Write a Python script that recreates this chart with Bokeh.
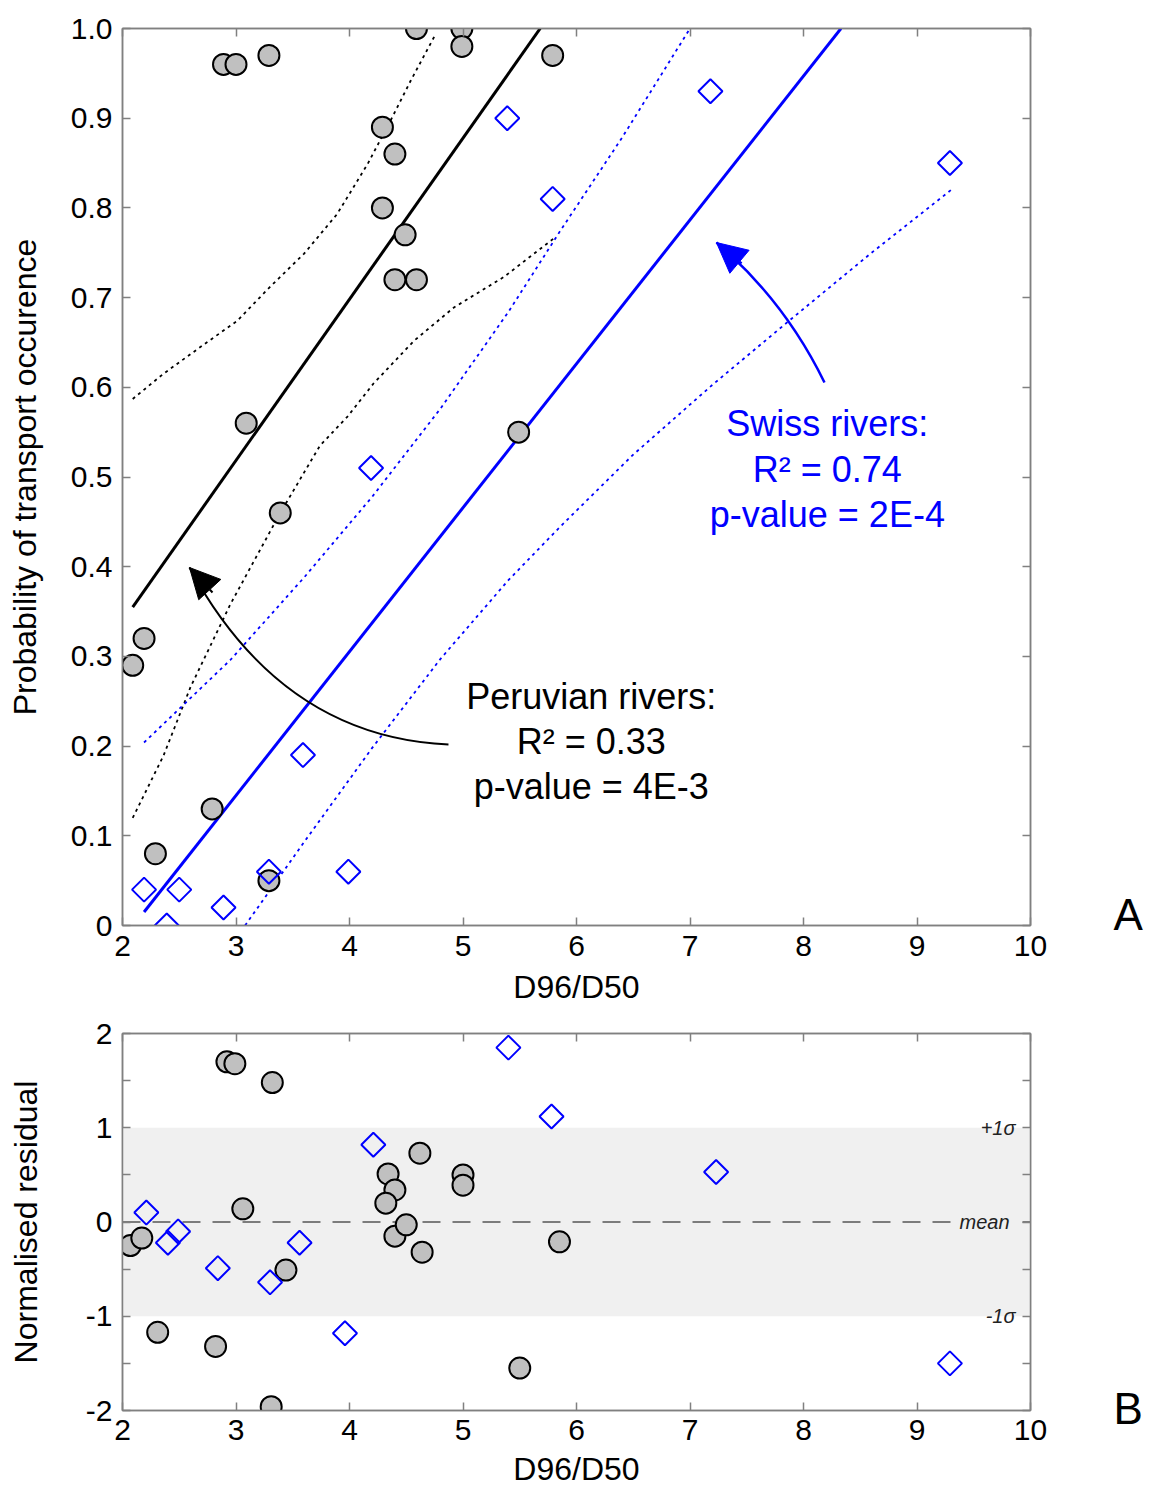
from bokeh.plotting import figure
from bokeh.layouts import column
from bokeh.models import (LinearAxis, FixedTicker, CustomJSTickFormatter, Label,
                          Arrow, NormalHead, BoxAnnotation, Span, Range1d)
from bokeh.embed import file_html
from bokeh.resources import INLINE

# ---------------- data ----------------
# Peruvian rivers (circles)
peru_x = [2.09, 2.19, 2.29, 2.79, 3.29, 2.89, 3.00, 3.29, 3.09, 3.39, 4.29,
          4.40, 4.29, 4.49, 4.40, 4.59, 4.59, 4.99, 4.99, 5.79, 5.49]
peru_y = [0.29, 0.32, 0.08, 0.13, 0.05, 0.96, 0.96, 0.97, 0.56, 0.46, 0.89,
          0.86, 0.80, 0.77, 0.72, 0.72, 1.00, 1.00, 0.98, 0.97, 0.55]
# Swiss rivers (diamonds)
swiss_x = [2.19, 2.39, 2.50, 2.89, 3.29, 3.99, 3.59, 4.19, 5.39, 5.79, 7.18, 9.29]
swiss_y = [0.04, 0.00, 0.04, 0.02, 0.06, 0.06, 0.19, 0.51, 0.90, 0.81, 0.93, 0.85]

# regression lines
peru_fit_x = [2.09, 5.68]
peru_fit_y = [0.355, 1.0]
swiss_fit_x = [2.19, 8.33]
swiss_fit_y = [0.015, 1.0]

# confidence bands
peru_upper_x = [2.09, 2.36, 2.72, 3.01, 3.30, 3.60, 3.89, 4.16, 4.36, 4.54, 4.76]
peru_upper_y = [0.587, 0.615, 0.648, 0.674, 0.712, 0.749, 0.793, 0.849, 0.897, 0.942, 0.994]
peru_lower_x = [2.09, 2.36, 2.60, 2.95, 3.39, 3.74, 3.98, 4.21, 4.57, 4.92, 5.36, 5.80]
peru_lower_y = [0.120, 0.189, 0.266, 0.358, 0.460, 0.535, 0.567, 0.604, 0.652, 0.689, 0.723, 0.766]
swiss_upper_x = [2.19, 2.95, 3.60, 4.20, 4.80, 5.40, 5.86, 6.40, 7.00]
swiss_upper_y = [0.204, 0.296, 0.388, 0.478, 0.576, 0.684, 0.775, 0.878, 1.0]
swiss_lower_x = [3.08, 3.60, 4.20, 4.80, 5.40, 5.86, 6.50, 7.20, 7.90, 8.60, 9.30]
swiss_lower_y = [0.0, 0.093, 0.198, 0.297, 0.385, 0.445, 0.525, 0.603, 0.677, 0.750, 0.820]

# normalised residuals
peru_res_x = [2.07, 2.17, 2.31, 2.82, 3.31, 2.92, 2.99, 3.32, 3.06, 3.44, 4.34,
              4.40, 4.32, 4.40, 4.50, 4.62, 4.64, 5.00, 5.00, 5.50, 5.85]
peru_res = [-0.25, -0.17, -1.17, -1.32, -1.96, 1.70, 1.68, 1.48, 0.14, -0.51, 0.51,
            0.34, 0.20, -0.15, -0.03, 0.73, -0.32, 0.50, 0.39, -1.55, -0.21]
swiss_res_x = [2.21, 2.40, 2.49, 2.84, 3.30, 3.56, 3.96, 4.21, 5.40, 5.78, 7.23, 9.29]
swiss_res = [0.10, -0.22, -0.10, -0.49, -0.64, -0.22, -1.18, 0.82, 1.85, 1.12, 0.53, -1.50]

x_ticks = [2, 3, 4, 5, 6, 7, 8, 9, 10]
y1_ticks = [0.0, 0.1, 0.2, 0.3, 0.4, 0.5, 0.6, 0.7, 0.8, 0.9, 1.0]
y2_ticks = [-2, -1, 0, 1, 2]
y2_minor = [-1.5, -0.5, 0.5, 1.5]

FONT = "Liberation Sans"
AX = "#808080"
BLUE = "#0000ff"
GRAY_FILL = "#c0c0c0"


def style_axis(ax, ticks, minor=None, fmt=None, labels=True):
    ax.ticker = FixedTicker(ticks=ticks, minor_ticks=minor or [])
    ax.axis_line_color = AX
    ax.axis_line_width = 1.5
    ax.major_tick_line_color = AX
    ax.major_tick_line_width = 1.5
    ax.minor_tick_line_color = AX
    ax.minor_tick_line_width = 1.5
    ax.major_tick_in = 8
    ax.major_tick_out = 0
    ax.minor_tick_in = 8
    ax.minor_tick_out = 0
    ax.major_label_text_font = FONT
    ax.major_label_text_color = "black"
    ax.axis_label_text_font = FONT
    ax.axis_label_text_font_style = "normal"
    ax.axis_label_text_color = "black"
    ax.axis_label_text_font_size = "32px"
    if labels:
        ax.major_label_text_font_size = "30px"
        ax.formatter = CustomJSTickFormatter(code=fmt)
    else:
        ax.major_label_text_font_size = "0px"
        ax.major_label_standoff = 0
        ax.formatter = CustomJSTickFormatter(code="return '';")


def panel_letter_axis(p, pos, letter):
    # an extra right-hand axis whose single tick label is the panel letter
    ax = LinearAxis(ticker=FixedTicker(ticks=[pos]),
                    formatter=CustomJSTickFormatter(code="return '%s';" % letter))
    ax.axis_line_color = None
    ax.major_tick_line_color = None
    ax.minor_tick_line_color = None
    ax.major_tick_in = 0
    ax.major_tick_out = 0
    ax.minor_tick_in = 0
    ax.minor_tick_out = 0
    ax.major_label_standoff = 83
    ax.major_label_text_font = FONT
    ax.major_label_text_font_size = "44px"
    ax.major_label_text_color = "black"
    p.add_layout(ax, "right")


def make_fig(height, yr, top, bottom):
    p = figure(width=1145, height=height, x_range=Range1d(2, 10), y_range=yr,
               output_backend="svg", toolbar_location=None,
               min_border_left=122, min_border_right=115,
               min_border_top=top, min_border_bottom=bottom)
    p.grid.visible = False
    p.outline_line_color = AX
    p.outline_line_width = 1.5
    p.background_fill_color = "white"
    p.border_fill_color = "white"
    return p


# ---------------- panel A ----------------
p1 = make_fig(1018, Range1d(0, 1), 28, 93)
style_axis(p1.xaxis[0], x_ticks, fmt="return tick.toFixed(0);")
style_axis(p1.yaxis[0], y1_ticks, fmt="return Math.abs(tick) < 0.05 ? '0' : tick.toFixed(1);")
p1.xaxis[0].axis_label = "D96/D50"
p1.yaxis[0].axis_label = "Probability of transport occurence"
p1.xaxis[0].major_label_standoff = 10
p1.xaxis[0].axis_label_standoff = 10
p1.yaxis[0].major_label_standoff = 10
p1.yaxis[0].axis_label_standoff = 25
ax_top = LinearAxis()
style_axis(ax_top, x_ticks, labels=False)
p1.add_layout(ax_top, "above")
ax_right = LinearAxis()
style_axis(ax_right, y1_ticks, labels=False)
p1.add_layout(ax_right, "right")
panel_letter_axis(p1, 0.0123, "A")

# bands
p1.line(peru_upper_x, peru_upper_y, line_color="black", line_width=1.8, line_dash="3 4")
p1.line(peru_lower_x, peru_lower_y, line_color="black", line_width=1.8, line_dash="3 4")
p1.line(swiss_upper_x, swiss_upper_y, line_color=BLUE, line_width=1.8, line_dash="3 4")
p1.line(swiss_lower_x, swiss_lower_y, line_color=BLUE, line_width=1.8, line_dash="3 4")
# fits
p1.line(peru_fit_x, peru_fit_y, line_color="black", line_width=3)
p1.line(swiss_fit_x, swiss_fit_y, line_color=BLUE, line_width=3)

# curved arrows
p1.quadratic(x0=[4.872], y0=[0.2018], x1=[2.590], y1=[0.3991], cx=[3.40], cy=[0.2101],
             line_color="black", line_width=2)
p1.add_layout(Arrow(end=NormalHead(size=30, fill_color="black", line_color="black", line_width=1),
                    x_start=2.793, y_start=0.3712, x_end=2.590, y_end=0.3991,
                    line_color="black", line_width=2))
p1.quadratic(x0=[8.185], y0=[0.6054], x1=[7.233], y1=[0.7614], cx=[7.833], cy=[0.6968],
             line_color=BLUE, line_width=2.5)
p1.add_layout(Arrow(end=NormalHead(size=30, fill_color=BLUE, line_color=BLUE, line_width=1),
                    x_start=7.454, y_start=0.738, x_end=7.233, y_end=0.7614,
                    line_color=BLUE, line_width=2.5))

# points
p1.scatter(peru_x, peru_y, marker="circle", size=21, fill_color=GRAY_FILL,
           line_color="black", line_width=2)
p1.scatter(swiss_x, swiss_y, marker="square", angle=0.7854, size=17, fill_alpha=0,
           line_color=BLUE, line_width=2)

# annotations
peru_text = ["Peruvian rivers:", "R\u00b2 = 0.33", "p-value = 4E-3"]
peru_text_y = [0.2550, 0.2048, 0.1550]
for t, yy in zip(peru_text, peru_text_y):
    p1.add_layout(Label(x=6.13, y=yy, text=t, text_align="center", text_baseline="alphabetic",
                        text_font=FONT, text_font_size="36px", text_color="black"))
swiss_text = ["Swiss rivers:", "R\u00b2 = 0.74", "p-value = 2E-4"]
swiss_text_y = [0.5597, 0.5084, 0.4582]
for t, yy in zip(swiss_text, swiss_text_y):
    p1.add_layout(Label(x=8.21, y=yy, text=t, text_align="center", text_baseline="alphabetic",
                        text_font=FONT, text_font_size="36px", text_color=BLUE))

# ---------------- panel B ----------------
p2 = make_fig(477, Range1d(-2, 2), 15, 85)
style_axis(p2.xaxis[0], x_ticks, fmt="return tick.toFixed(0);")
style_axis(p2.yaxis[0], y2_ticks, minor=y2_minor, fmt="return tick.toFixed(0);")
p2.xaxis[0].axis_label = "D96/D50"
p2.yaxis[0].axis_label = "Normalised residual"
p2.xaxis[0].major_label_standoff = 9
p2.xaxis[0].axis_label_standoff = 8
p2.yaxis[0].major_label_standoff = 10
p2.yaxis[0].axis_label_standoff = 39
ax_top2 = LinearAxis()
style_axis(ax_top2, x_ticks, labels=False)
p2.add_layout(ax_top2, "above")
ax_right2 = LinearAxis()
style_axis(ax_right2, y2_ticks, minor=y2_minor, labels=False)
p2.add_layout(ax_right2, "right")
panel_letter_axis(p2, -1.98, "B")

p2.add_layout(BoxAnnotation(bottom=-1, top=1, fill_color="#f0f0f0", fill_alpha=1,
                            line_color=None, level="underlay"))
p2.add_layout(Span(location=0, dimension="width", line_color="#555555", line_width=1.5,
                   line_dash="18 12", level="underlay"))

p2.scatter(peru_res_x, peru_res, marker="circle", size=21, fill_color=GRAY_FILL,
           line_color="black", line_width=2)
p2.scatter(swiss_res_x, swiss_res, marker="square", angle=0.7854, size=17, fill_alpha=0,
           line_color=BLUE, line_width=2)

sigma_text = ["+1\u03c3", "mean", "-1\u03c3"]
sigma_y = [1, 0, -1]
for t, yy in zip(sigma_text, sigma_y):
    p2.add_layout(Label(x=10, y=yy, x_offset=-15, text=t, text_align="right",
                        text_baseline="middle", text_font=FONT, text_font_size="20px",
                        text_font_style="italic", text_color="#222222",
                        background_fill_color="#f0f0f0" if t == "mean" else None,
                        padding=6 if t == "mean" else 0))

layout = column(p1, p2)
open("out.html", "w").write(file_html(layout, INLINE))
